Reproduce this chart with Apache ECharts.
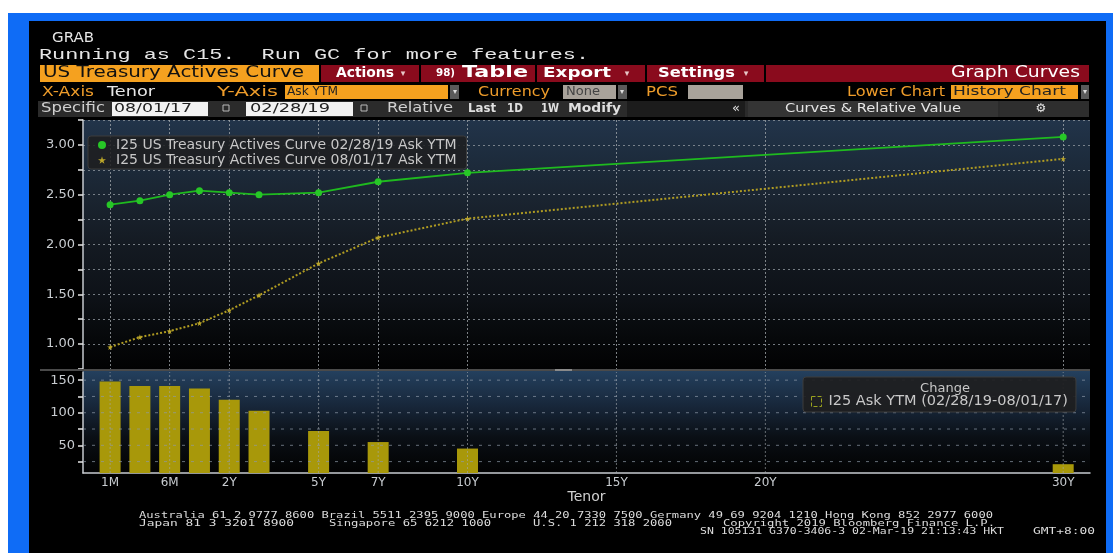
<!DOCTYPE html>
<html><head><meta charset="utf-8">
<script src="https://cdn.jsdelivr.net/npm/echarts@6/dist/echarts.min.js"></script>
<style>
html,body{margin:0;padding:0;background:#fff;overflow:hidden;}
#frame{position:absolute;left:8px;top:13px;width:1105px;height:540px;background:#0f6cf6;}
#inner{position:absolute;left:29px;top:21px;width:1077px;height:532px;background:#000;}
#bgU{position:absolute;left:83px;top:120px;width:1007px;height:249px;
  background:linear-gradient(to bottom,#22344a 0%,#1d2c3d 15%,#1a2430 32%,#141a22 50%,#0e1218 70%,#06080a 88%,#020203 100%);}
#bgL{position:absolute;left:83px;top:371px;width:1007px;height:102px;
  background:linear-gradient(to bottom,#24405e 0%,#172639 35%,#0a0f15 65%,#020202 100%);}
#c{position:absolute;left:0;top:0;width:1113px;height:553px;}
</style>
</head><body>
<div id="frame"></div><div id="inner"></div><div id="bgU"></div><div id="bgL"></div><div id="c"></div>
<script>
// ---------------- data ----------------
const tenors = ['1M','3M','6M','1Y','2Y','3Y','5Y','7Y','10Y','30Y'];
const tenorAxisPos = [-2,-1,0,1,2,3,5,7,10,30];           // Bloomberg tenor scale (short end compressed)
const curve20190228 = [2.40,2.44,2.50,2.54,2.52,2.50,2.52,2.63,2.72,3.08];
const curve20170801 = [0.97,1.07,1.13,1.21,1.34,1.49,1.81,2.07,2.26,2.86];
const changeBp = [148,141,141,137,120,103,72,55,45,21];
const xTickLabels = ['1M','6M','2Y','5Y','7Y','10Y','15Y','20Y','30Y'];
const xTickPos = [-2,0,2,5,7,10,15,20,30];
const yLabelsUpper = ['1.00','1.50','2.00','2.50','3.00'];
const yLabelsLower = [50,100,150];
const yMinorLower = [25,50,75,100,125,150];
const seriesNames = ['I25 US Treasury Actives Curve 02/28/19 Ask YTM','I25 US Treasury Actives Curve 08/01/17 Ask YTM'];
const barName = 'I25 Ask YTM (02/28/19-08/01/17)';

// ---------------- helpers ----------------
const mctx = document.createElement('canvas').getContext('2d');
const SANS = '"DejaVu Sans", sans-serif';
const MONO = '"Liberation Mono", "DejaVu Sans Mono", monospace';
function txt(s, x, y, w, size, color, opt) {
  opt = opt || {};
  const font = (opt.weight || 'normal') + ' ' + size + 'px ' + (opt.family || SANS);
  mctx.font = font;
  const mw = mctx.measureText(s).width;
  return {type:'text', x:x, y:y, scaleX: w ? w / mw : 1, z:60, silent:true,
    style:{text:s, fill:color, font:font, align: opt.align || 'left', verticalAlign:'middle'}};
}
function rect(x, y, w, h, fill, z, stroke) {
  return {type:'rect', shape:{x:x, y:y, width:w, height:h}, z: z == null ? 20 : z, silent:true,
    style: stroke ? {fill:fill, stroke:stroke, lineWidth:1} : {fill:fill}};
}
const OR = '#f5a11f', ORT = '#ee9c2a', RED = '#8a0b1d', WH = '#e6e6e6', GR = '#a8a29a';

const g = [];
// row 1, 2
g.push(txt('GRAB', 52, 38, 42, 14, WH));
g.push(txt('Running as C15.  Run GC for more features.', 39, 55, 550, 15, WH, {family: MONO}));
// row 3
g.push(rect(40, 65, 279, 17, OR));
g.push(rect(321, 65, 768, 17, RED));
[419, 535, 645, 764].forEach(function (x) { g.push(rect(x, 65, 2, 17, '#000', 21)); });
g.push(txt('US Treasury Actives Curve', 43, 73.5, 261, 15, '#111'));
g.push(txt('Actions', 336, 73.5, 58, 14, '#fff', {weight:'bold'}));
g.push(txt('98)', 436, 73.5, 19, 11, '#fff', {weight:'bold'}));
g.push(txt('Table', 462, 73.5, 66, 15, '#fff', {weight:'bold'}));
g.push(txt('Export', 543, 73.5, 68, 14, '#fff', {weight:'bold'}));
g.push(txt('Settings', 658, 73.5, 77, 14, '#fff', {weight:'bold'}));
[403, 627, 746].forEach(function (x) { g.push(txt('\u25BE', x, 74, 0, 9, '#e8c8c8', {align:'center'})); });
g.push(txt('Graph Curves', 951, 73.5, 129, 15, '#fff'));
// row 4
g.push(txt('X-Axis', 42, 92, 52, 14, ORT));
g.push(txt('Tenor', 107, 92, 48, 14, WH));
g.push(txt('Y-Axis', 217, 92, 61, 14, ORT));
g.push(rect(285, 85, 163, 14, OR));
g.push(txt('Ask YTM', 287, 92, 51, 13, '#222'));
g.push(rect(450, 85, 9, 14, '#5a5a5a'));
g.push(txt('Currency', 478, 92, 72, 14, ORT));
g.push(rect(563, 85, 53, 14, GR));
g.push(txt('None', 566, 92, 34, 13, '#444'));
g.push(rect(618, 85, 9, 14, '#5a5a5a'));
g.push(txt('PCS', 646, 92, 32, 14, ORT));
g.push(rect(688, 85, 55, 14, GR));
g.push(txt('Lower Chart', 847, 92, 98, 14, ORT));
g.push(rect(951, 85, 127, 14, OR));
g.push(txt('History Chart', 953, 92, 113, 13, '#222'));
g.push(rect(1081, 85, 8, 14, '#5a5a5a'));
[455, 622, 1085].forEach(function (x) { g.push(txt('\u25BE', x, 92, 0, 8, '#ddd', {align:'center'})); });
// row 5
g.push(rect(38, 101, 1051, 16, '#2b2b2b', 19));
g.push(txt('Specific', 41, 108.5, 64, 14, '#d0d0d0'));
g.push(rect(112, 102, 96, 14, '#f2f2f2'));
g.push(txt('08/01/17', 114, 109, 78, 13, '#222'));
g.push(rect(223, 105, 6, 6, 'none', 21, '#bbb'));
g.push(rect(246, 102, 107, 14, '#f2f2f2'));
g.push(txt('02/28/19', 250, 109, 80, 13, '#222'));
g.push(rect(361, 105, 6, 6, 'none', 21, '#bbb'));
g.push(txt('Relative', 387, 108.5, 66, 14, '#d0d0d0'));
g.push(txt('Last', 468, 108.5, 28, 12, '#e0e0e0', {weight:'bold'}));
g.push(txt('1D', 507, 108.5, 16, 12, '#e0e0e0', {weight:'bold'}));
g.push(txt('1W', 541, 108.5, 18, 12, '#e0e0e0', {weight:'bold'}));
g.push(txt('Modify', 568, 108.5, 53, 12, '#e0e0e0', {weight:'bold'}));
g.push(rect(627, 101, 118, 16, '#1c1c1c'));
g.push(txt('\u00AB', 736, 108.5, 0, 13, '#e0e0e0', {align:'center'}));
g.push(rect(748, 101, 250, 16, '#343434'));
g.push(txt('Curves & Relative Value', 785, 108.5, 176, 13, '#e6e6e6'));
g.push(rect(1000, 101, 89, 16, '#2e2e2e'));
g.push(txt('\u2699', 1041, 108.5, 0, 12, '#e6e6e6', {align:'center'}));
// chart separator
g.push(rect(40, 369, 1050, 2, '#4a4a4a'));
g.push(rect(555, 369, 17, 2, '#8a8a8a', 21));
// lower legend title
g.push(txt('Change', 945, 389, 0, 13, '#c8c8c8', {align:'center'}));
// footer
const FOOT = '"DejaVu Sans Mono", monospace', FC = '#dcdcdc';
g.push(txt('Australia 61 2 9777 8600 Brazil 5511 2395 9000 Europe 44 20 7330 7500 Germany 49 69 9204 1210 Hong Kong 852 2977 6000', 139, 516, 854, 9, FC, {family:FOOT}));
g.push(txt('Japan 81 3 3201 8900', 139, 524, 155, 9, FC, {family:FOOT}));
g.push(txt('Singapore 65 6212 1000', 329, 524, 162, 9, FC, {family:FOOT}));
g.push(txt('U.S. 1 212 318 2000', 533, 524, 139, 9, FC, {family:FOOT}));
g.push(txt('Copyright 2019 Bloomberg Finance L.P.', 723, 524, 272, 9, FC, {family:FOOT}));
g.push(txt('SN 105131 G370-3406-3 02-Mar-19 21:13:43 HKT', 700, 532, 304, 9, FC, {family:FOOT}));
g.push(txt('GMT+8:00', 1033, 532, 62, 9, FC, {family:FOOT}));

// ---------------- chart ----------------
const star = 'path://M50,0 L61,35 L98,35 L68,57 L79,91 L50,70 L21,91 L32,57 L2,35 L39,35 Z';
const AX = '#c6cacf';
const labelStyle = {color:'#c8ccd0', fontSize:13, fontFamily:'DejaVu Sans'};
const xMin = -2.91, xMax = 30.9, yMinL = 7.5, yMaxL = 162.5;

// lower-panel grid lines as helper series on the lower grid's own axes
const gridSeries = [];
xTickPos.forEach(function (v, i) {
  gridSeries.push({name:'vgrid' + i, type:'line', xAxisIndex:1, yAxisIndex:1, data:[[v, yMinL], [v, yMaxL]],
    symbol:'none', silent:true, clip:false, z:5, lineStyle:{color:'#a4a9ae', width:1, type:[2,2], opacity:0.6}});
});
yMinorLower.forEach(function (v, i) {
  gridSeries.push({name:'hgrid' + i, type:'line', xAxisIndex:1, yAxisIndex:1, data:[[xMin, v], [xMax, v]],
    symbol:'none', silent:true, clip:false, z:5, lineStyle:{color:'#8f9aa8', width:1, type:[3,6], opacity:0.7}});
});

const chart = echarts.init(document.getElementById('c'), null, {renderer:'canvas'});
chart.setOption({
  animation:false,
  backgroundColor:'transparent',
  graphic: g,
  grid: [
    {left:83, right:23, top:120, height:249, show:false},
    {left:83, right:23, top:372, height:101, show:false}
  ],
  xAxis: [
    {type:'value', gridIndex:0, min:xMin, max:xMax,
     axisLine:{show:false}, axisTick:{show:false, customValues:xTickPos}, axisLabel:{show:false, customValues:xTickPos},
     splitLine:{show:true, lineStyle:{color:'#a4a9ae', type:[2,2], width:1, opacity:0.75}}},
    {type:'value', gridIndex:1, min:xMin, max:xMax, name:'Tenor', nameLocation:'middle', nameGap:17,
     nameTextStyle:{color:'#cfcfcf', fontSize:14, fontFamily:'DejaVu Sans'},
     axisLine:{show:true, onZero:false, lineStyle:{color:AX, width:1.5}},
     axisTick:{show:false, customValues:xTickPos},
     axisLabel:Object.assign({customValues:xTickPos, margin:4, formatter:function (v) { return xTickLabels[xTickPos.indexOf(v)]; }}, labelStyle, {fontSize:12}),
     splitLine:{show:false}}
  ],
  yAxis: [
    {type:'value', gridIndex:0, min:0.75, max:3.25, interval:0.25,
     axisLine:{show:true, onZero:false, lineStyle:{color:AX, width:1.5}},
     axisTick:{show:true, length:5, lineStyle:{color:'#e6e6e6', width:1.5}},
     axisLabel:Object.assign({margin:8, formatter:function (v) { const s = v.toFixed(2); return yLabelsUpper.indexOf(s) >= 0 ? s : ''; }}, labelStyle),
     splitLine:{show:true, lineStyle:{color:'#8f969e', type:[2,3], width:1, opacity:0.8}}},
    {type:'value', gridIndex:1, min:yMinL, max:yMaxL,
     axisLine:{show:true, onZero:false, lineStyle:{color:AX, width:1.5}},
     axisTick:{show:true, length:5, customValues:yMinorLower, lineStyle:{color:'#e6e6e6', width:1.5}},
     axisLabel:Object.assign({margin:8, customValues:yLabelsLower}, labelStyle),
     splitLine:{show:false}}
  ],
  legend: [
    {data:[{name:seriesNames[0], icon:'circle'}, {name:seriesNames[1], icon:star}],
     orient:'vertical', left:88, top:136, padding:[2,10,2,10], itemGap:1, itemWidth:8, itemHeight:8,
     backgroundColor:'rgba(30,30,32,0.85)', borderColor:'#3c3c3c', borderWidth:1, borderRadius:3,
     textStyle:{color:'#c8c8c8', fontSize:14, fontFamily:'DejaVu Sans', padding:[0,0,0,5]}, selectedMode:false, z:10},
    {data:[{name:barName, icon:'rect', itemStyle:{color:'transparent', borderColor:'#9aa21e', borderWidth:1, borderType:'dashed'}}],
     left:803, top:377, padding:[17,8,3,8], itemWidth:10, itemHeight:10,
     backgroundColor:'rgba(30,30,32,0.92)', borderColor:'#3c3c3c', borderWidth:1, borderRadius:3,
     textStyle:{color:'#c8c8c8', fontSize:14.5, fontFamily:'DejaVu Sans', padding:[0,0,0,2]}, selectedMode:false, z:10}
  ],
  series: gridSeries.concat([
    {name:seriesNames[0], type:'line', xAxisIndex:0, yAxisIndex:0,
     data: tenorAxisPos.map(function (p, i) { return [p, curve20190228[i]]; }),
     symbol:'circle', symbolSize:7, itemStyle:{color:'#27c727'}, lineStyle:{color:'#1fba1f', width:1.8}, z:4},
    {name:seriesNames[1], type:'line', xAxisIndex:0, yAxisIndex:0,
     data: tenorAxisPos.map(function (p, i) { return [p, curve20170801[i]]; }),
     symbol:star, symbolSize:6, itemStyle:{color:'#bba62a'}, lineStyle:{color:'#b09c22', width:2, type:[2,2]}, z:3},
    {name:barName, type:'bar', xAxisIndex:1, yAxisIndex:1,
     data: tenorAxisPos.map(function (p, i) { return [p, changeBp[i]]; }),
     barWidth:21, itemStyle:{color:'#a8980a'}, z:3}
  ])
});
</script>
</body></html>
